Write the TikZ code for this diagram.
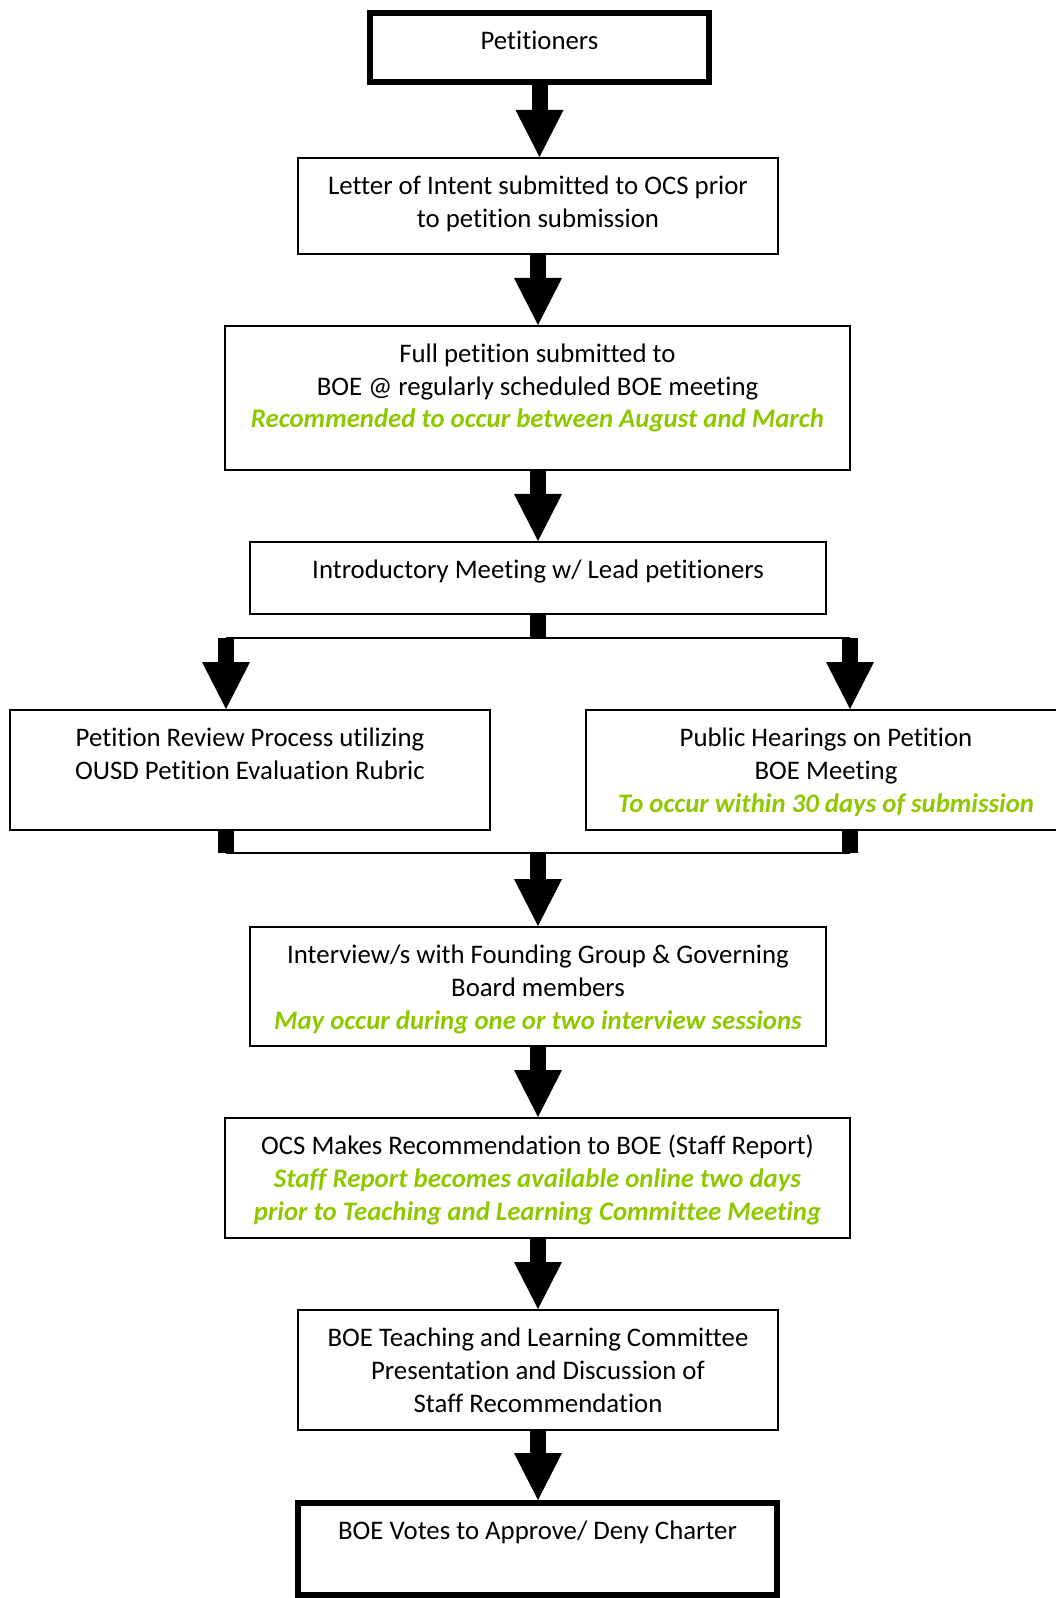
\documentclass[tikz,border=0pt]{standalone}
\usepackage{fontspec}
\setmainfont[Ligatures=NoCommon]{Carlito}
\usetikzlibrary{arrows.meta}
\definecolor{notegreen}{RGB}{143,200,0}
\newcommand{\boxtext}[3]{\parbox[c][#2][t]{#1}{\centering\rule{0pt}{18.4pt}#3}}
\newcommand{\greennote}[1]{{\color{notegreen}\bfseries\itshape #1}}

\begin{document}
\begin{tikzpicture}[x=0.5pt,y=-0.5pt]
  \tikzstyle{every node}=[font=\fontsize{13.4}{16.3}\selectfont,inner sep=0pt]
  \tikzstyle{stepbox}=[draw,line width=1pt]
  \tikzstyle{endbox}=[draw,line width=3pt]
  \tikzstyle{bigarrow}=[line width=8pt,-{Triangle[width=24pt,length=23.5pt,line width=0pt]}]
  \tikzstyle{stub}=[line width=8pt]
  \tikzstyle{joint}=[line width=1pt]
  \useasboundingbox (0,0) rectangle (1055,1598);

\node[endbox] (petitioners) at (539.5,47.5) {\boxtext{169.5pt}{34.5pt}{Petitioners}};
\node[stepbox] (intent) at (538,206) {\boxtext{240pt}{48pt}{Letter of Intent submitted to OCS prior\\
      to petition submission}};
\node[stepbox] (petition) at (537.5,398) {\boxtext{312.5pt}{72pt}{Full petition submitted to\\
      BOE @ regularly scheduled BOE meeting\\
      \greennote{Recommended to occur between August and March}}};
\node[stepbox] (intro) at (538,578) {\boxtext{288pt}{36pt}{Introductory Meeting w/ Lead petitioners}};
\node[stepbox] (review) at (250,770) {\boxtext{240pt}{60pt}{Petition Review Process utilizing\\
      OUSD Petition Evaluation Rubric}};
\node[stepbox] (hearings) at (826,770) {\boxtext{240pt}{60pt}{Public Hearings on Petition\\
      BOE Meeting\\
      \greennote{To occur within 30 days of submission}}};
\node[stepbox] (interview) at (538,986.5) {\boxtext{288pt}{59.5pt}{Interview/s with Founding Group \& Governing\\
      Board members\\
      \greennote{May occur during one or two interview sessions}}};
\node[stepbox] (report) at (537.5,1178) {\boxtext{312.5pt}{60pt}{OCS Makes Recommendation to BOE (Staff Report)\\
      \greennote{Staff Report becomes available online two days}\\
      \greennote{prior to Teaching and Learning Committee Meeting}}};
\node[stepbox] (committee) at (538,1370) {\boxtext{240pt}{60pt}{BOE Teaching and Learning Committee\\
      Presentation and Discussion of\\
      Staff Recommendation}};
\node[endbox] (vote) at (537.5,1549) {\boxtext{239.5pt}{46pt}{BOE Votes to Approve/ Deny Charter}};

\draw[bigarrow] (petitioners.south) -- (petitioners.south |- intent.north);
\draw[bigarrow] (intent.south) -- (intent.south |- petition.north);
\draw[bigarrow] (petition.south -| intent.south) -- (intent.south |- intro.north);

\coordinate (split) at (538,638);
\coordinate (splitL) at (226,638);
\coordinate (splitR) at (850,638);
\draw[stub] (intro.south) -- (split);
\draw[joint] (splitL) -- (splitR);
\draw[bigarrow] (splitL) -- (splitL |- review.north);
\draw[bigarrow] (splitR) -- (splitR |- hearings.north);

\coordinate (merge) at (538,853);
\coordinate (mergeL) at (226,853);
\coordinate (mergeR) at (850,853);
\draw[stub] (review.south -| mergeL) -- (mergeL);
\draw[stub] (hearings.south -| mergeR) -- (mergeR);
\draw[joint] (mergeL) -- (mergeR);
\draw[bigarrow] (merge) -- (merge |- interview.north);

\draw[bigarrow] (interview.south) -- (interview.south |- report.north);
\draw[bigarrow] (report.south -| interview.south) -- (interview.south |- committee.north);
\draw[bigarrow] (committee.south) -- (committee.south |- vote.north);
\end{tikzpicture}
\end{document}
